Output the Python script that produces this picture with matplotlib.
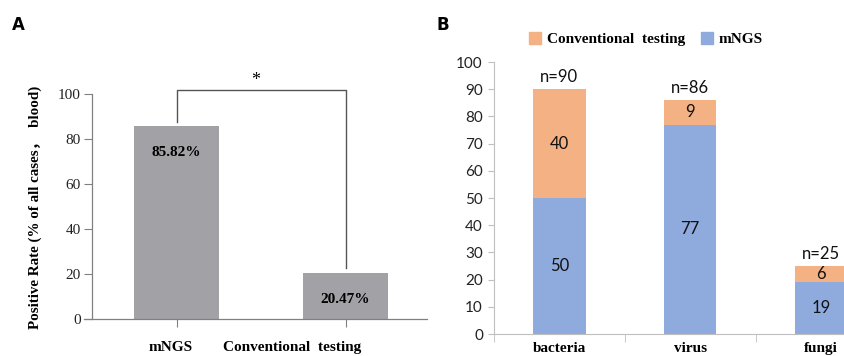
import numpy as np
import matplotlib.pyplot as plt
from matplotlib.patches import Patch

# ---- panel A: overall positive rate ----
methods = ["mNGS", "Conventional  testing"]
rates = [85.82, 20.47]

# ---- panel B: positives by pathogen type ----
pathogens = ["bacteria", "virus", "fungi"]
mngs_counts = [50, 77, 19]
conv_counts = [40, 9, 6]

GRAY = "#a2a1a6"
ORANGE = "#f4b183"
BLUE = "#8faadc"
SERIF = ["Liberation Serif", "Noto Sans CJK SC"]

W, H = 845, 356
fig = plt.figure(figsize=(W / 100, H / 100), dpi=100)


def px_axes(left, top, right, bottom):
    return fig.add_axes([left / W, 1 - bottom / H, (right - left) / W, (bottom - top) / H])


# ==========================
# PANEL A
# ==========================
axA = px_axes(91.7, 94, 427, 319)
xA = np.arange(len(rates))
axA.bar(xA, rates, width=0.503, color=GRAY, zorder=2)
axA.set_xlim(-0.502, 1.482)
axA.set_ylim(0, 100)
axA.set_yticks(np.arange(0, 101, 20))
axA.set_yticklabels([str(v) for v in range(0, 101, 20)], family=SERIF, fontsize=11)
axA.set_xticks(xA)
axA.set_xticklabels([])
for s in ["top", "right"]:
    axA.spines[s].set_visible(False)
for s in ["left", "bottom"]:
    axA.spines[s].set_color("#808080")
    axA.spines[s].set_linewidth(0.9)
axA.spines["bottom"].set_bounds(-0.55, 1.482)
axA.tick_params(axis="y", length=6, color="#808080", pad=2, labelcolor="#222")
axA.tick_params(axis="x", length=6, color="#808080")

for x, r in zip(xA, rates):
    axA.text(x, r - 12, f"{r:.2f}%", ha="center", va="center",
             family=SERIF, fontweight="bold", fontsize=11)

# x labels sit under the bars but a little off-centre
axA.text(-0.033, -12.5, methods[0], ha="center", va="center", family=SERIF,
         fontweight="bold", fontsize=11, clip_on=False)
axA.text(0.683, -12.5, methods[1], ha="center", va="center", family=SERIF,
         fontweight="bold", fontsize=11, clip_on=False)

# significance bracket
axA.plot([0, 0, 1, 1], [rates[0] + 1.8, 101.8, 101.8, rates[1] + 2.2],
         color="#555", lw=1, clip_on=False)
axA.text(0.47, 106, "*", ha="center", va="center", fontsize=13, family=SERIF)

fig.text(35 / W, 1 - 207 / H, "Positive Rate (% of all cases，  blood)", rotation=90,
         ha="center", va="center", family=SERIF, fontweight="bold", fontsize=10.8)
fig.text(18 / W, 1 - 25 / H, "A", ha="center", va="center", fontweight="bold", fontsize=12)

# ==========================
# PANEL B
# ==========================
axB = px_axes(494, 62, 845, 334)
xB = np.arange(len(pathogens))
totals = np.array(mngs_counts) + np.array(conv_counts)
axB.bar(xB, mngs_counts, width=0.4, color=BLUE, zorder=2)
axB.bar(xB, conv_counts, width=0.4, bottom=mngs_counts, color=ORANGE, zorder=2)

for x, m, c, t in zip(xB, mngs_counts, conv_counts, totals):
    axB.text(x, m / 2, str(m), ha="center", va="center", family="Lato", fontsize=12, color="#111")
    axB.text(x, m + c / 2, str(c), ha="center", va="center", family="Lato", fontsize=12, color="#111")
    axB.annotate(f"n={t}", (x, t), xytext=(0, 3), textcoords="offset points",
                 ha="center", va="bottom", family="Lato", fontsize=12, color="#111")

axB.set_xlim(-0.5, 2.183)
axB.set_ylim(0, 100)
axB.set_yticks(np.arange(0, 101, 10))
axB.set_yticklabels([str(v) for v in range(0, 101, 10)], family="Lato", fontsize=11)
axB.set_xticks(xB)
axB.set_xticklabels(pathogens, family=SERIF, fontweight="bold", fontsize=11)
axB.set_xticks([-0.5, 0.5, 1.5], minor=True)
axB.tick_params(axis="x", which="major", length=0, pad=6)
axB.tick_params(axis="x", which="minor", length=6, color="#bfbfbf")
axB.tick_params(axis="y", length=4, color="#bfbfbf", pad=4, labelcolor="#222")
for s in ["top", "right"]:
    axB.spines[s].set_visible(False)
for s in ["left", "bottom"]:
    axB.spines[s].set_color("#bfbfbf")

handles = [Patch(color=ORANGE), Patch(color=BLUE)]
fig.legend(handles, ["Conventional  testing", "mNGS"], ncol=2, frameon=False,
           loc="center", bbox_to_anchor=(646 / W, 1 - 39 / H),
           prop={"family": SERIF, "weight": "bold", "size": 11},
           handlelength=0.8, handleheight=0.8, handletextpad=0.4, columnspacing=1.0)
fig.text(443 / W, 1 - 25 / H, "B", ha="center", va="center", fontweight="bold", fontsize=12)

fig.savefig("out.png", dpi=100)
